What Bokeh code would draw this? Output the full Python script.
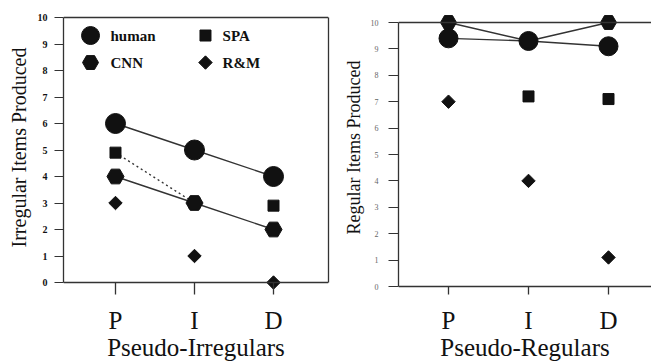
import numpy as np
from bokeh.plotting import figure
from bokeh.layouts import row
from bokeh.models import Span, LinearAxis, FixedTicker
from bokeh.core.properties import value
from bokeh.embed import file_html
from bokeh.resources import INLINE

# ---------------- data ----------------
categories = ["P", "I", "D"]
cat_x = [1, 2, 3]
y_ticks = list(range(0, 11))

# Pseudo-Irregulars (left panel)
irr_human = [6.0, 5.0, 4.0]
irr_spa = [4.9, 3.0, 2.9]
irr_cnn = [4.0, 3.0, 2.0]
irr_rm = [3.0, 1.0, 0.0]

# Pseudo-Regulars (right panel)
reg_human = [9.4, 9.3, 9.1]
reg_cnn = [10.0, 9.3, 10.0]
reg_spa = [float("nan"), 7.2, 7.1]
reg_rm = [7.0, 4.0, 1.1]

legend_names = ["human", "SPA", "CNN", "R&M"]

# ---------------- style ----------------
FONT = "Liberation Serif"
INK = "#111111"
LINE = "#333333"
H = 363
F_BOTTOM = 294  # expected page y of frame bottom


def base_fig(width, xr, yr, mbl, mbr):
    p = figure(width=width, height=H, x_range=xr, y_range=yr,
               output_backend="svg", toolbar_location=None,
               min_border_left=mbl, min_border_right=mbr,
               min_border_top=0, min_border_bottom=0)
    p.xgrid.visible = False
    p.ygrid.visible = False
    p.outline_line_color = None
    p.background_fill_color = "white"
    p.border_fill_color = "white"
    # x axis
    p.xaxis.ticker = FixedTicker(ticks=cat_x)
    p.xaxis.major_label_overrides = {x: c for x, c in zip(cat_x, categories)}
    p.xaxis.axis_line_color = None
    p.xaxis.major_tick_out = 0
    p.xaxis.major_tick_line_color = LINE
    p.xaxis.major_tick_line_width = 1.3
    p.xaxis.minor_tick_line_color = None
    p.xaxis.major_label_text_font = FONT
    p.xaxis.major_label_text_font_size = "25px"
    p.xaxis.major_label_text_color = INK
    p.xaxis.major_label_standoff = 12
    p.xaxis.axis_label_text_font = FONT
    p.xaxis.axis_label_text_font_size = "25px"
    p.xaxis.axis_label_text_font_style = "normal"
    p.xaxis.axis_label_text_color = INK
    p.xaxis.axis_label_standoff = -3
    # y axis
    p.yaxis.ticker = FixedTicker(ticks=y_ticks)
    p.yaxis.bounds = (0, 10)
    p.yaxis.axis_line_color = LINE
    p.yaxis.axis_line_width = 1.3
    p.yaxis.major_tick_in = 0
    p.yaxis.major_tick_line_color = LINE
    p.yaxis.minor_tick_line_color = None
    p.yaxis.major_label_text_font = FONT
    p.yaxis.axis_label_text_font = FONT
    p.yaxis.axis_label_text_font_style = "normal"
    p.yaxis.axis_label_text_color = INK
    # frame lines at 0 and 10
    p.add_layout(Span(location=0, dimension="width", line_color=LINE, line_width=1.3))
    p.add_layout(Span(location=10, dimension="width", line_color=LINE, line_width=1.3))
    return p


# ---------------- left panel ----------------
L_PX = 26.5
left = base_fig(340, (0.342, 3.696), (-(F_BOTTOM - 282) / L_PX, 10 + 17 / L_PX), 63, 12)
left.xaxis.axis_label = "Pseudo-Irregulars"
left.xaxis.major_tick_in = F_BOTTOM - 282
left.yaxis.axis_label = "Irregular Items Produced"
left.yaxis.axis_label_text_font_size = "20px"
left.yaxis.axis_label_standoff = 5
left.yaxis.major_tick_out = 9
left.yaxis.major_label_text_font_size = "10px"
left.yaxis.major_label_text_font_style = "bold"
left.yaxis.major_label_text_color = INK
left.yaxis.major_label_standoff = 7
ra = LinearAxis(bounds=(0, 10), ticker=FixedTicker(ticks=[]),
                axis_line_color=LINE, axis_line_width=1.3,
                major_tick_line_color=None, minor_tick_line_color=None)
left.add_layout(ra, "right")

left.line(cat_x, irr_human, line_color=LINE, line_width=1.4)
left.line(cat_x, irr_cnn, line_color=LINE, line_width=1.4)
left.line(cat_x[:2], irr_spa[:2], line_color=LINE, line_width=1.4, line_dash="2 3")
left.scatter(cat_x, irr_spa, marker="square", size=11, color=INK)
left.scatter(cat_x, irr_human, marker="circle", size=20, color=INK)
left.scatter(cat_x, irr_cnn, marker="hex", size=17, color=INK)
left.scatter(cat_x, irr_rm, marker="square", angle=np.pi / 4, size=9.5, color=INK)

# legend (layout positions)
LG_MX = [0.684, 2.139, 0.684, 2.139]
LG_TX = [0.937, 2.355, 0.937, 2.355]
LG_Y = [9.32, 9.32, 8.30, 8.30]
lg_markers = ["circle", "square", "hex", "square"]
lg_sizes = [18, 11, 16, 9.5]
lg_angles = [0, 0, 0, np.pi / 4]
for mx, ty, mk, sz, an in zip(LG_MX, LG_Y, lg_markers, lg_sizes, lg_angles):
    left.scatter([mx], [ty], marker=mk, size=sz, angle=an, color=INK)
left.text(x=LG_TX, y=LG_Y, text=legend_names, text_font=value(FONT),
          text_font_size="15px", text_font_style="bold",
          text_baseline="middle", text_align="left", text_color=INK)

# ---------------- right panel ----------------
R_PX = 26.4
right = base_fig(311, (0.375, 3.5375), (-(F_BOTTOM - 286) / R_PX, 10 + 22 / R_PX), 58, 0)
right.xaxis.axis_label = "Pseudo-Regulars"
right.xaxis.major_tick_in = F_BOTTOM - 286
right.yaxis.axis_label = "Regular Items Produced"
right.yaxis.axis_label_text_font_size = "18px"
right.yaxis.axis_label_standoff = 4
right.yaxis.major_tick_out = 10
right.yaxis.major_label_text_font_size = "8px"
right.yaxis.major_label_text_color = "#666666"
right.yaxis.major_label_standoff = 10

right.line(cat_x, reg_cnn, line_color=LINE, line_width=1.4)
right.line(cat_x, reg_human, line_color=LINE, line_width=1.4)
right.scatter(cat_x, reg_spa, marker="square", size=11, color=INK)
right.scatter(cat_x, reg_human, marker="circle", size=19, color=INK)
right.scatter(cat_x, reg_cnn, marker="hex", size=16, color=INK)
right.scatter(cat_x, reg_rm, marker="square", angle=np.pi / 4, size=9.5, color=INK)

layout = row(left, right)
open("out.html", "w").write(file_html(layout, INLINE))
